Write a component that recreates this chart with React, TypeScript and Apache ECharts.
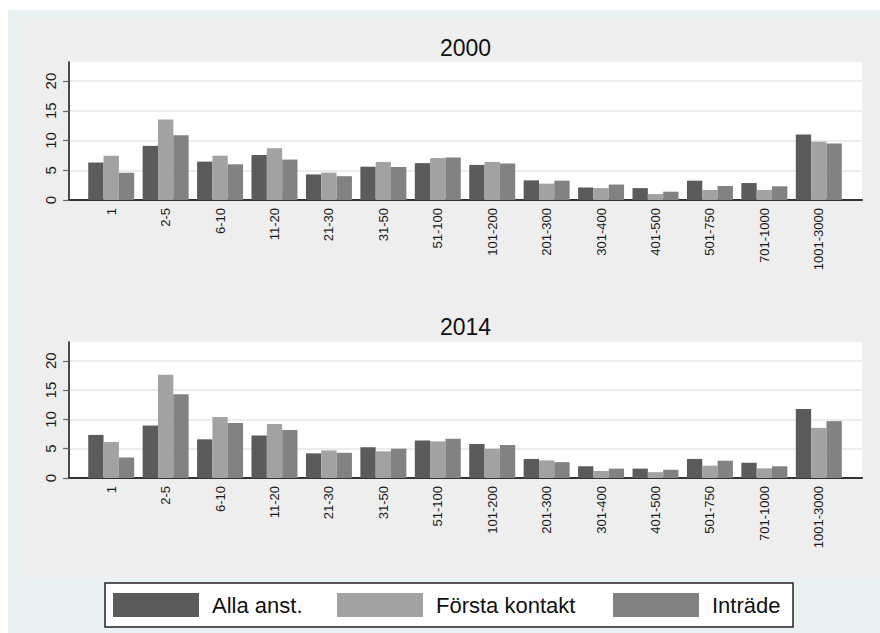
import React, { useEffect, useRef } from 'react';
import * as echarts from 'echarts';

const categories = ['1', '2-5', '6-10', '11-20', '21-30', '31-50', '51-100', '101-200', '201-300', '301-400', '401-500', '501-750', '701-1000', '1001-3000'];
const seriesNames = ['Alla anst.', 'Första kontakt', 'Inträde'];
const seriesColors = ['#5b5b5b', '#a2a2a2', '#828282'];
const panelTitles = ['2000', '2014'];

const alla2000 = [6.3, 9.1, 6.45, 7.55, 4.3, 5.6, 6.2, 5.9, 3.3, 2.1, 2.0, 3.25, 2.85, 11.0];
const forsta2000 = [7.45, 13.55, 7.45, 8.7, 4.6, 6.4, 7.05, 6.4, 2.75, 2.0, 1.0, 1.7, 1.7, 9.8];
const intrade2000 = [4.6, 10.9, 6.0, 6.8, 4.0, 5.55, 7.15, 6.15, 3.25, 2.6, 1.4, 2.35, 2.3, 9.5];

const alla2014 = [7.35, 8.95, 6.6, 7.25, 4.2, 5.25, 6.4, 5.8, 3.25, 2.0, 1.6, 3.25, 2.6, 11.75];
const forsta2014 = [6.15, 17.6, 10.4, 9.2, 4.7, 4.55, 6.25, 5.0, 3.0, 1.2, 1.0, 2.1, 1.65, 8.55];
const intrade2014 = [3.5, 14.3, 9.4, 8.2, 4.3, 5.0, 6.7, 5.65, 2.7, 1.6, 1.4, 2.95, 2.0, 9.7];

const yTicks = [0, 5, 10, 15, 20];
const yMin = 0;
const yMax = 23.2;

const FONT = '"Liberation Sans", Arial, sans-serif';

export default function App() {
  const ref = useRef<HTMLDivElement>(null);

  useEffect(() => {
    if (!ref.current) return;
    const chart = echarts.init(ref.current, undefined, { renderer: 'svg' });

    const panelData = [
      [alla2000, forsta2000, intrade2000],
      [alla2014, forsta2014, intrade2014],
    ];
    const panels = [
      { top: 62, height: 138, titleY: 47.5 },
      { top: 342, height: 136, titleY: 327 },
    ];
    const frameLeft = 69;
    const frameWidth = 793;
    const barLeft = 84;
    const barWidth = 762;

    const grid: any[] = [];
    const xAxis: any[] = [];
    const yAxis: any[] = [];
    const series: any[] = [];

    panels.forEach((p, pi) => {
      const fi = pi * 2;
      const bi = pi * 2 + 1;
      grid.push({
        left: frameLeft, top: p.top, width: frameWidth, height: p.height,
        show: true, backgroundColor: '#ffffff', borderWidth: 0,
      });
      grid.push({
        left: barLeft, top: p.top, width: barWidth, height: p.height,
        show: false,
      });
      xAxis.push({
        type: 'value', gridIndex: fi, min: 0, max: 1,
        axisLine: { show: true, onZero: false, lineStyle: { color: '#333333', width: 2 } },
        axisTick: { show: false }, axisLabel: { show: false }, splitLine: { show: false },
      });
      xAxis.push({
        type: 'category', gridIndex: bi, data: categories,
        axisLine: { show: false }, axisTick: { show: false },
        axisLabel: { rotate: 90, margin: 8, fontSize: 13, color: '#1a1a1a', fontFamily: FONT, interval: 0 },
        splitLine: { show: false },
      });
      yAxis.push({
        type: 'value', gridIndex: fi, min: yMin, max: yMax, interval: 5,
        axisLine: { show: true, onZero: false, lineStyle: { color: '#111111', width: 1.5 } },
        axisTick: { show: true, length: 6, lineStyle: { color: '#666666', width: 1.2 }, customValues: yTicks },
        axisLabel: { rotate: 90, margin: 11, fontSize: 15, color: '#1a1a1a', fontFamily: FONT, customValues: yTicks },
        splitLine: { show: true, lineStyle: { color: '#e6e6e6', width: 1.5 } },
      });
      yAxis.push({
        type: 'value', gridIndex: bi, min: yMin, max: yMax, show: false,
        splitLine: { show: false },
      });
      seriesNames.forEach((name, si) => {
        series.push({
          type: 'bar', name, xAxisIndex: bi, yAxisIndex: bi,
          data: panelData[pi][si],
          itemStyle: { color: seriesColors[si] },
          barGap: '0%', barCategoryGap: '15.5%',
        });
      });
    });

    const legendLefts = [113, 337, 613];
    const legend = seriesNames.map((name, i) => ({
      data: [{ name, icon: 'rect' }],
      left: legendLefts[i], top: 593, padding: 0,
      itemWidth: 86, itemHeight: 24,
      textStyle: { fontSize: 22, fontFamily: FONT, color: '#111111', padding: [0, 0, 0, 8], lineHeight: 24 },
      selectedMode: false,
    }));

    const graphic: any[] = [
      {
        type: 'rect', z: 1,
        shape: { x: 105, y: 583, width: 688, height: 44 },
        style: { fill: '#ffffff', stroke: '#222222', lineWidth: 1.5 },
      },
      ...panelTitles.map((t, i) => ({
        type: 'text', z: 5,
        x: frameLeft + frameWidth / 2, y: panels[i].titleY,
        style: { text: t, align: 'center', verticalAlign: 'middle', fontSize: 23, fontFamily: FONT, fill: '#111111' },
      })),
    ];

    chart.setOption({
      animation: false,
      backgroundColor: 'transparent',
      grid, xAxis, yAxis, series, legend, graphic,
    });

    return () => chart.dispose();
  }, []);

  return (
    <div style={{ position: 'fixed', left: 0, top: 0, width: 880, height: 633, background: '#ffffff', overflow: 'hidden' }}>
      <div style={{ position: 'absolute', left: 8, top: 10, width: 872, height: 623, background: '#e9f1f3' }} />
      <div style={{ position: 'absolute', left: 19, top: 18, width: 858, height: 560, background: '#eeeeee' }} />
      <div ref={ref} style={{ position: 'absolute', left: 0, top: 0, width: 880, height: 633 }} />
    </div>
  );
}
